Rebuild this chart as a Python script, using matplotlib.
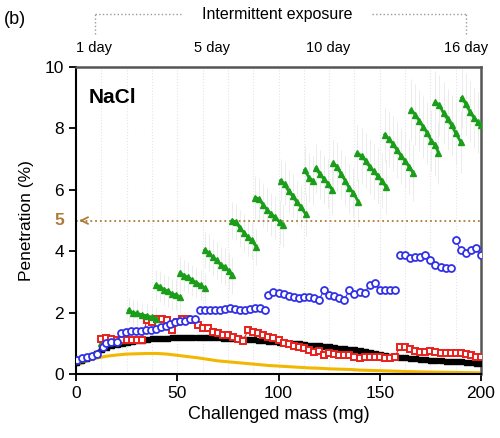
"""Penetration vs challenged mass, NaCl, intermittent exposure (panel b)."""

# Plot.
from matplotlib import pyplot as plt
import numpy as np

plt.rcParams["font.family"] = ["Liberation Sans", "DejaVu Sans"]

# Data.
# Green: one list per daily exposure segment.
green_x = [
    [0.5, 2.5, 4.5, 6.5, 8.5, 10.5],
    [12.5, 14.5, 16.5, 18.5, 20.5, 22.5, 24.5],
    [26, 28, 30, 32.5, 35, 37.5, 39.5],
    [39.5, 41.5, 43.5, 45.5, 47.5, 49.5, 51.5],
    [51.5, 53.5, 55.5, 57.5, 59.5, 61.5, 63.5],
    [63.5, 65.5, 67.5, 69.5, 71.5, 73.5, 75.5, 77],
    [77, 79, 81, 83, 85, 87, 89],
    [88.5, 90.5, 92.5, 94.5, 96.5, 98.5, 100.5, 102],
    [101, 103, 105, 107, 109, 111, 113.5],
    [113, 115, 117],
    [118.5, 120.5, 122.5, 124.5, 126.5],
    [127, 129, 131, 133, 135, 137, 139.5],
    [139, 141, 143, 145, 147, 149, 151, 153],
    [152.5, 154.5, 156.5, 158.5, 160.5, 162.5, 164.5, 166.5],
    [165.5, 167.5, 169.5, 171.5, 173.5, 175.5, 177.5, 179],
    [177.5, 179.5, 181.5, 183.5, 185.5, 187.5, 190],
    [190.5, 192.5, 194.5, 196.5, 198.5, 200],
]
green_y = [
    [0.45, 0.5, 0.55, 0.58, 0.62, 0.66],
    [1.02, 1.05, 1.06, 1.08, 1.08, 1.1, 1.1],
    [2.08, 2.0, 1.98, 1.93, 1.9, 1.85, 1.8],
    [2.9, 2.85, 2.75, 2.7, 2.6, 2.58, 2.5],
    [3.3, 3.2, 3.15, 3.05, 2.98, 2.9, 2.8],
    [4.04, 3.95, 3.8, 3.7, 3.55, 3.5, 3.35, 3.22],
    [5.0, 4.95, 4.75, 4.6, 4.45, 4.35, 4.14],
    [5.75, 5.7, 5.5, 5.35, 5.2, 5.1, 4.95, 4.85],
    [6.3, 6.2, 5.95, 5.8, 5.6, 5.45, 5.2],
    [6.65, 6.4, 6.3],
    [6.7, 6.5, 6.35, 6.2, 6.0],
    [6.87, 6.75, 6.5, 6.3, 6.05, 5.9, 5.6],
    [7.2, 7.1, 6.95, 6.75, 6.6, 6.45, 6.3, 6.1],
    [7.8, 7.65, 7.5, 7.3, 7.1, 6.95, 6.75, 6.55],
    [8.6, 8.45, 8.25, 8.05, 7.85, 7.6, 7.45, 7.2],
    [8.86, 8.75, 8.5, 8.3, 8.1, 7.85, 7.56],
    [9.0, 8.8, 8.55, 8.35, 8.2, 8.1],
]
green_err = [0.2, 0.3, 0.4, 0.5, 0.5, 0.6, 0.6, 0.7, 0.7, 0.8, 0.8, 0.8,
             0.9, 0.9, 1.0, 1.0, 1.0]

blue_x = [
    [0.3, 2.8, 5.2, 7.7, 10.2, 13.3, 15, 17.5, 20, 22.4, 24.9, 27.4, 29.8,
     32.3, 34.8, 37.2, 39.7, 42.2, 44.6, 46.3, 48.7, 51.2, 53.7, 56.1, 58.6],
    [61, 63.5, 66, 68.5, 71, 73.5, 76, 78.5, 81, 83.5, 86, 88.5, 91, 93.5],
    [95, 97.5, 100, 102.5, 105, 107.5, 110, 112.5, 115, 117.5, 120, 122.5,
     125, 127.5, 130, 132.5, 135, 137.5, 140, 142.5, 145, 147.5, 150, 152.5,
     155, 157.5],
    [160, 162.5, 165, 167.5, 170, 172.5, 175, 177.5, 180, 182.5, 185],
    [187.5, 190, 192.5, 195, 197.5, 200],
]
blue_y = [
    [0.46, 0.52, 0.55, 0.59, 0.65, 0.88, 1.0, 1.05, 1.05, 1.33, 1.37, 1.4, 1.4,
     1.4, 1.43, 1.45, 1.48, 1.53, 1.58, 1.63, 1.69, 1.72, 1.74, 1.78, 1.8],
    [2.1, 2.1, 2.08, 2.1, 2.1, 2.12, 2.15, 2.12, 2.08, 2.1, 2.12, 2.15, 2.15, 2.1],
    [2.57, 2.67, 2.64, 2.6, 2.54, 2.5, 2.48, 2.5, 2.5, 2.48, 2.41, 2.74,
     2.57, 2.54, 2.48, 2.42, 2.74, 2.62, 2.67, 2.64, 2.9, 2.96, 2.74, 2.74,
     2.74, 2.74],
    [3.88, 3.88, 3.78, 3.81, 3.81, 3.88, 3.71, 3.55, 3.49, 3.45, 3.45],
    [4.36, 4.04, 3.94, 4.04, 4.1, 3.88],
]

red_x = [12.5, 15, 17.5, 20, 22.5, 25, 27.5, 30, 32.5, 35, 37.5, 40, 42.5,
         45, 47.5, 50, 52.5, 55, 57.5, 60, 62.5, 65, 67.5, 70, 72.5, 75, 77.5,
         80, 82.5, 85, 87.5, 90, 92.5, 95, 97.5, 100, 102.5, 105, 107.5, 110,
         112.5, 115, 117.5, 120, 122.5, 125, 127.5, 130, 132.5, 135, 137.5,
         140, 142.5, 145, 147.5, 150, 152.5, 155, 157.5, 160, 162.5, 165,
         167.5, 170, 172.5, 175, 177.5, 180, 182.5, 185, 187.5, 190, 192.5,
         195, 197.5, 200]
red_y = [1.14, 1.17, 1.15, 1.12, 1.1, 1.1, 1.12, 1.1, 1.1, 1.76, 1.7, 1.78,
         1.8, 1.75, 1.43, 1.7, 1.78, 1.8, 1.75, 1.6, 1.5, 1.5, 1.38, 1.33,
         1.27, 1.27, 1.22, 1.13, 1.09, 1.43, 1.38, 1.33, 1.27, 1.22, 1.16,
         1.11, 1.02, 0.98, 0.91, 0.87, 0.84, 0.78, 0.73, 0.75, 0.62, 0.67,
         0.65, 0.62, 0.62, 0.62, 0.56, 0.51, 0.56, 0.56, 0.54, 0.54, 0.51,
         0.51, 0.56, 0.89, 0.89, 0.8, 0.76, 0.73, 0.73, 0.76, 0.73, 0.69,
         0.69, 0.69, 0.69, 0.67, 0.65, 0.62, 0.56, 0.56]

black_x = np.arange(0, 200.1, 2.5)
black_y = [0.38, 0.45, 0.53, 0.6, 0.7, 0.8, 0.88, 0.94, 0.98, 1.02, 1.05,
           1.07, 1.1, 1.12, 1.14, 1.16, 1.17, 1.18, 1.19, 1.2, 1.2, 1.21,
           1.22, 1.22, 1.22, 1.22, 1.22, 1.21, 1.2, 1.19, 1.18, 1.17, 1.16,
           1.15, 1.14, 1.13, 1.12, 1.1, 1.08, 1.07, 1.05, 1.03, 1.02, 1.01,
           1.0, 0.98, 0.96, 0.95, 0.93, 0.91, 0.9, 0.88, 0.86, 0.85, 0.83,
           0.8, 0.78, 0.75, 0.72, 0.69, 0.66, 0.63, 0.6, 0.58, 0.56, 0.55,
           0.53, 0.52, 0.5, 0.49, 0.47, 0.46, 0.45, 0.44, 0.43, 0.42, 0.41,
           0.4, 0.38, 0.37, 0.36]

yellow_x = np.arange(0, 200.1, 5)
yellow_y = [0.28, 0.42, 0.52, 0.58, 0.62, 0.65, 0.66, 0.67, 0.67, 0.65, 0.61,
            0.57, 0.53, 0.48, 0.43, 0.4, 0.37, 0.34, 0.31, 0.28, 0.26, 0.24,
            0.22, 0.2, 0.19, 0.17, 0.16, 0.15, 0.13, 0.12, 0.11, 0.1, 0.09,
            0.08, 0.07, 0.065, 0.06, 0.055, 0.05, 0.045, 0.04]

day_bounds = np.arange(12.5, 200, 12.5)
top_labels = ["1 day", "5 day", "10 day", "16 day"]
top_pos = [8.9, 67, 124.4, 192.6]
threshold = 5

GREEN = "#1a9e1a"
BLUE = "#3030e8"
RED = "#e8201c"
GOLD = "#f2b700"
BROWN = "#b07a3a"

fig = plt.figure(figsize=(5, 4.38), dpi=100)
ax = fig.add_axes([0.152, 0.146, 0.810, 0.701])

for xb in day_bounds:
    ax.axvline(xb, color="#e4e4e4", lw=0.8, ls=":", zorder=0)

# faint error bars on the green series
for xs, ys, e in zip(green_x, green_y, green_err):
    ax.errorbar(xs, ys, yerr=e, fmt="none", ecolor="#ececec", elinewidth=0.7,
                zorder=1)

ax.plot(yellow_x, yellow_y, color=GOLD, lw=2.2, zorder=2)
ax.plot(black_x, black_y, color="black", lw=2.2, marker="s", ms=3.6, zorder=3)
ax.plot(red_x, red_y, color=RED, lw=0.8, marker="s", ms=4.6, mfc="white",
        mec=RED, mew=1.4, zorder=4)
for xs, ys in zip(blue_x, blue_y):
    ax.plot(xs, ys, color=BLUE, lw=0.8, marker="o", ms=5, mfc="white",
            mec=BLUE, mew=1.3, zorder=5)
for i, (xs, ys) in enumerate(zip(green_x, green_y)):
    # first two days sit under the other series
    z = 3.5 if i < 2 else 6
    ax.plot(xs, ys, color=GREEN, lw=2, marker="^", ms=4.6, mec=GREEN, zorder=z)

# threshold line with arrow to the axis
ax.plot([0, 200], [threshold, threshold], ls=":", color=BROWN, lw=1.3, zorder=1)
ax.annotate("", xy=(0.3, threshold), xytext=(4, threshold),
            arrowprops=dict(arrowstyle="->", color=BROWN, lw=1.3,
                            mutation_scale=12))
ax.text(-0.028, threshold, "5", transform=ax.get_yaxis_transform(),
        ha="right", va="center", color=BROWN, fontsize=12.5, fontweight="bold")

ax.set_xlim(0, 200)
ax.set_ylim(0, 10)
ax.set_xticks([0, 50, 100, 150, 200])
ax.set_yticks([0, 2, 4, 6, 8, 10])
ax.tick_params(direction="out", length=5, width=1.3, labelsize=12.5)
ax.set_xlabel("Challenged mass (mg)", fontsize=13, labelpad=4)
ax.set_ylabel("Penetration (%)", fontsize=12.5, labelpad=8)
for side in ["left", "bottom"]:
    ax.spines[side].set_linewidth(1.5)
for side in ["top", "right"]:
    ax.spines[side].set_linewidth(1.8)
    ax.spines[side].set_color("#555555")

ax.text(0.03, 0.9, "NaCl", transform=ax.transAxes, fontsize=15,
        fontweight="bold", va="center")

# top labels for exposure days
for lab, xp in zip(top_labels, top_pos):
    ax.text(xp, 1.062, lab, transform=ax.get_xaxis_transform(), ha="center",
            va="center", fontsize=10.5)

# bracket over the top
yb = 1 - 14 / 438
yl = 1 - 34 / 438
bracket = dict(color="#999999", lw=1, ls=":")
fig.add_artist(plt.Line2D([95 / 500, 95 / 500], [yl, yb], **bracket))
fig.add_artist(plt.Line2D([95 / 500, 181 / 500], [yb, yb], **bracket))
fig.add_artist(plt.Line2D([372 / 500, 466 / 500], [yb, yb], **bracket))
fig.add_artist(plt.Line2D([466 / 500, 466 / 500], [yl, yb], **bracket))
fig.text(277 / 500, yb, "Intermittent exposure", ha="center", va="center",
         fontsize=11.5)
fig.text(0.008, 1 - 19 / 438, "(b)", ha="left", va="center", fontsize=13)

fig.savefig("out.png", dpi=100)
